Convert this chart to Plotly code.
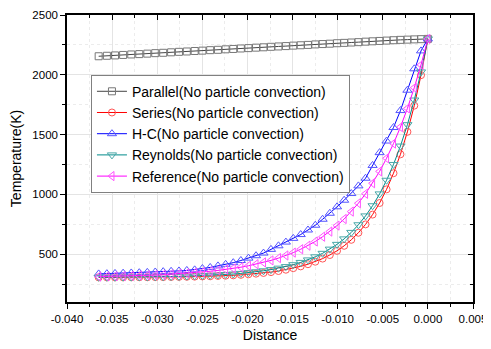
import plotly.graph_objects as go

distance = [-0.03649, -0.03558, -0.03468, -0.03378, -0.03288, -0.03199, -0.03110, -0.03022,
            -0.02934, -0.02846, -0.02759, -0.02672, -0.02585, -0.02499, -0.02413, -0.02327,
            -0.02242, -0.02157, -0.02073, -0.01989, -0.01905, -0.01822, -0.01739, -0.01656,
            -0.01574, -0.01492, -0.01410, -0.01329, -0.01248, -0.01167, -0.01087, -0.01007,
            -0.00928, -0.00849, -0.00770, -0.00691, -0.00613, -0.00535, -0.00458, -0.00381,
            -0.00304, -0.00227, -0.00151, -0.00076, 0.0]

parallel = [2155, 2159, 2162, 2166, 2170, 2173, 2177, 2181, 2184, 2188, 2192, 2195, 2199, 2202,
            2206, 2209, 2213, 2216, 2220, 2223, 2227, 2230, 2234, 2237, 2240, 2244, 2247, 2250,
            2254, 2257, 2260, 2264, 2267, 2270, 2273, 2277, 2280, 2283, 2286, 2289, 2292, 2294,
            2296, 2298, 2300]

series = [306, 306, 306, 306, 307, 307, 307, 308, 308, 309, 310, 311, 312, 314, 315, 318, 320,
          323, 327, 332, 337, 343, 350, 359, 370, 383, 398, 416, 437, 463, 493, 528, 570, 620,
          679, 749, 831, 928, 1042, 1177, 1335, 1523, 1742, 1997, 2300]

hc = [335, 337, 339, 341, 343, 345, 348, 351, 354, 357, 360, 364, 369, 380, 389, 402, 415, 429,
      447, 467, 487, 509, 540, 570, 601, 632, 664, 702, 742, 792, 842, 896, 951, 1007, 1071,
      1135, 1242, 1349, 1446, 1559, 1701, 1871, 2050, 2200, 2300]

reynolds = [307, 307, 307, 308, 308, 309, 309, 310, 311, 313, 314, 316, 318, 320, 323, 326, 330,
            334, 339, 345, 353, 361, 371, 383, 396, 412, 431, 452, 478, 507, 542, 582, 628, 682,
            746, 820, 905, 1004, 1118, 1250, 1404, 1583, 1789, 2024, 2300]

reference = [313, 314, 315, 317, 319, 321, 323, 325, 328, 332, 336, 340, 345, 350, 357, 364, 372,
             381, 391, 403, 416, 431, 448, 467, 489, 513, 541, 571, 606, 646, 689, 739, 794, 856,
             926, 1005, 1093, 1192, 1302, 1425, 1563, 1719, 1892, 2083, 2300]

x_ticks = [-0.040, -0.035, -0.030, -0.025, -0.020, -0.015, -0.010, -0.005, 0.000, 0.005]
x_labels = ["-0.040", "-0.035", "-0.030", "-0.025", "-0.020", "-0.015",
            "-0.010", "-0.005", "0.000", "0.005"]
y_ticks = [500, 1000, 1500, 2000, 2500]

names = ["Parallel(No particle convection)", "Series(No particle convection)",
         "H-C(No particle convection)", "Reynolds(No particle convection)",
         "Reference(No particle convection)"]
values = [parallel, series, hc, reynolds, reference]
line_colors = ["#444444", "#ff0000", "#0000ff", "#008b8b", "#ff00ff"]
marker_colors = ["#777777", "#ff5555", "#5555ff", "#4aa8a8", "#ff55ff"]
symbols = ["square-open", "circle-open", "triangle-up-open", "triangle-down-open", "triangle-left-open"]
sizes = [7, 7, 8, 8, 8]

fig = go.Figure()
for nm, v, lc, mc, sy, sz in zip(names, values, line_colors, marker_colors, symbols, sizes):
    fig.add_trace(go.Scatter(
        x=distance, y=v, name=nm, mode="lines+markers",
        line=dict(color=lc, width=1),
        marker=dict(symbol=sy, size=sz, color=mc, line=dict(color=mc, width=1)),
    ))

# helper (empty) trace so mirrored top/right axes are drawn
fig.add_trace(go.Scatter(x=[None], y=[None], xaxis="x2", yaxis="y2", showlegend=False,
                         hoverinfo="skip"))

font = "Liberation Sans, Arial, sans-serif"
XR = [-0.040, 0.005]
YR = [100, 2500]

# page body has an 8px margin, so the figure is 8px smaller than the window
fig.update_layout(
    width=483, height=341,
    margin=dict(l=59, r=18, t=7, b=47),
    paper_bgcolor="white", plot_bgcolor="white",
    font=dict(family=font, size=11.5, color="black"),
    showlegend=True,
    legend=dict(x=0.059, y=0.792, xanchor="left", yanchor="top",
                bgcolor="white", bordercolor="#808080", borderwidth=1,
                font=dict(family=font, size=14, color="black"),
                tracegroupgap=0, itemwidth=30),
    xaxis=dict(range=XR, tickvals=x_ticks, ticktext=x_labels, automargin=False,
               ticklabeloverflow="allow",
               showline=True, linecolor="black", linewidth=1.5, zeroline=False,
               ticks="outside", ticklen=5, tickwidth=1, tickcolor="black",
               showgrid=True, gridcolor="#e4e4e4", gridwidth=1,
               minor=dict(dtick=0.0025, tick0=0, ticks="outside", ticklen=3, tickcolor="black",
                          showgrid=True, gridcolor="#ececec", griddash="dot"),
               title=dict(text="Distance", font=dict(family=font, size=14), standoff=7)),
    yaxis=dict(range=YR, tickvals=y_ticks, automargin=False,
               ticklabeloverflow="allow",
               showline=True, linecolor="black", linewidth=1.5, zeroline=False,
               ticks="outside", ticklen=5, tickwidth=1, tickcolor="black",
               showgrid=True, gridcolor="#e4e4e4", gridwidth=1,
               minor=dict(dtick=250, tick0=0, ticks="outside", ticklen=3, tickcolor="black",
                          showgrid=True, gridcolor="#ececec", griddash="dot"),
               title=dict(text="Temperature(K)", font=dict(family=font, size=14), standoff=9)),
    xaxis2=dict(overlaying="x", side="top", range=XR, tickvals=x_ticks, automargin=False,
                showline=True, linecolor="black", linewidth=1.5, zeroline=False,
                showticklabels=False, ticks="inside", ticklen=5, tickcolor="black", showgrid=False,
                minor=dict(dtick=0.0025, tick0=0, ticks="inside", ticklen=3, tickcolor="black")),
    yaxis2=dict(overlaying="y", side="right", range=YR, tickvals=y_ticks, automargin=False,
                showline=True, linecolor="black", linewidth=1.5, zeroline=False,
                showticklabels=False, ticks="inside", ticklen=5, tickcolor="black", showgrid=False,
                minor=dict(dtick=250, tick0=0, ticks="inside", ticklen=3, tickcolor="black")),
)

fig.write_html("out.html")
